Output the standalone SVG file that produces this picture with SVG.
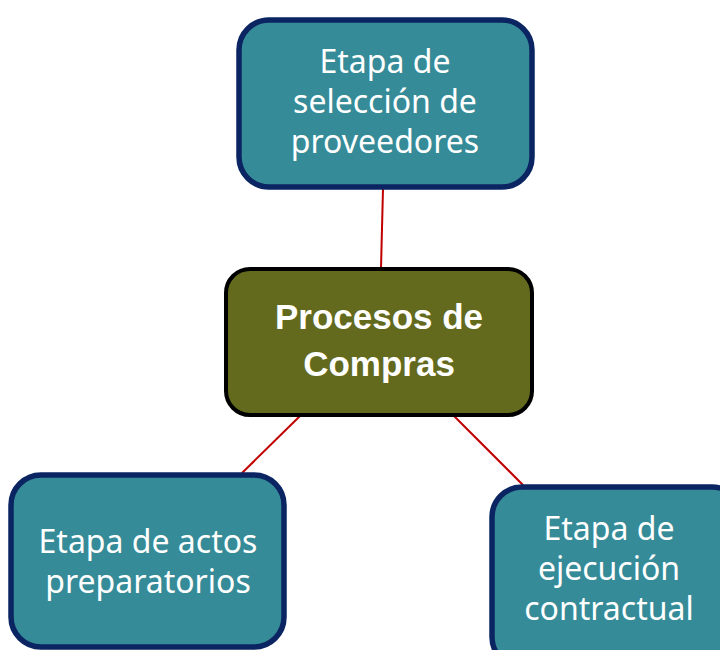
<svg xmlns="http://www.w3.org/2000/svg" width="720" height="650" viewBox="0 0 720 650">
<style>
.stage{fill:#358B98;stroke:#0B2462;stroke-width:5.5}
.main{fill:#636A1D;stroke:#000;stroke-width:4}
.t{fill:#fff;font-family:"Noto Sans","Liberation Sans",Arial,sans-serif;font-size:32px;text-anchor:middle}
.b{fill:#fff;font-family:"Liberation Sans",Arial,sans-serif;font-size:35px;font-weight:bold;text-anchor:middle}
.c{stroke:#C00000;stroke-width:2;fill:none}
</style>
<rect width="720" height="650" fill="#fff"/>
<g id="connectors">
<line class="c" x1="383" y1="189" x2="381" y2="268"/>
<line class="c" x1="300" y1="416" x2="242" y2="473"/>
<line class="c" x1="453" y1="415" x2="523" y2="485"/>
</g>
<g id="node-seleccion">
<rect class="stage" x="239" y="20" width="293" height="167" rx="30"/>
<text class="t" x="385" y="73">Etapa de</text>
<text class="t" x="385" y="113">selección de</text>
<text class="t" x="385" y="153">proveedores</text>
</g>
<g id="node-procesos">
<rect class="main" x="226" y="269" width="306" height="146" rx="24"/>
<text class="b" x="379" y="329">Procesos de</text>
<text class="b" x="379" y="376">Compras</text>
</g>
<g id="node-actos">
<rect class="stage" x="11" y="475" width="273" height="172" rx="30"/>
<text class="t" x="148" y="553">Etapa de actos</text>
<text class="t" x="148" y="593">preparatorios</text>
</g>
<g id="node-ejecucion">
<rect class="stage" x="492" y="487" width="250" height="180" rx="30"/>
<text class="t" x="609" y="540">Etapa de</text>
<text class="t" x="609" y="580">ejecución</text>
<text class="t" x="609" y="620">contractual</text>
</g>
</svg>
